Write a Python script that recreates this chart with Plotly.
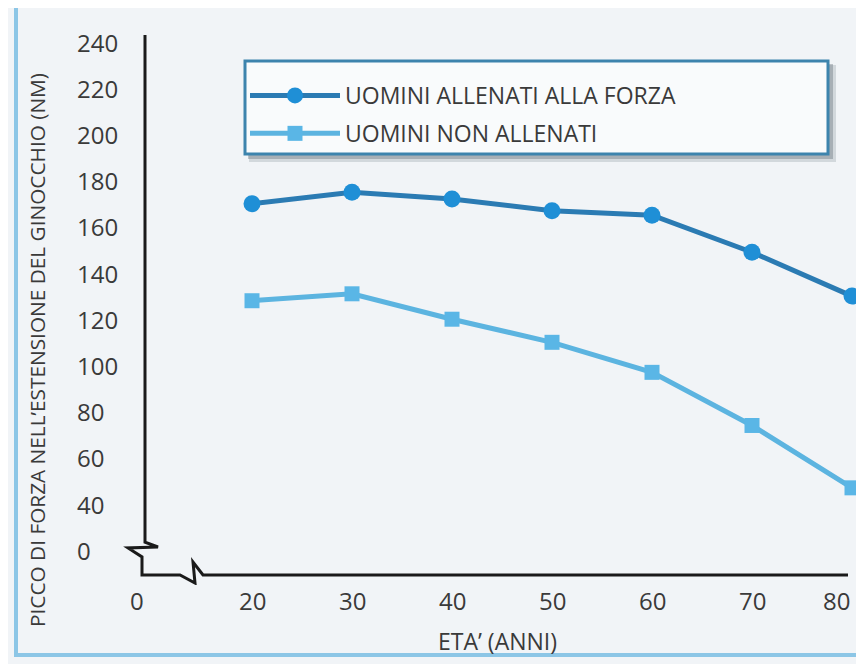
import plotly.graph_objects as go

# ---------------- data ----------------
ages = [20, 30, 40, 50, 60, 70, 80]
trained = [170, 175, 172, 167, 165, 149, 130]
untrained = [128, 131, 120, 110, 97, 74, 47]

series_names = ["UOMINI ALLENATI ALLA FORZA", "UOMINI NON ALLENATI"]

x_tick_vals = [8.5, 20, 30, 40, 50, 60, 70, 80]
x_tick_text = ["0", "20", "30", "40", "50", "60", "70", "80"]
y_tick_vals = [20, 40, 60, 80, 100, 120, 140, 160, 180, 200, 220, 240]
y_tick_text = ["0", "40", "60", "80", "100", "120", "140", "160", "180", "200", "220", "240"]

y_title = "PICCO DI FORZA NELL\u2019ESTENSIONE DEL GINOCCHIO (NM)"
x_title = "ETA\u2019 (ANNI)"

# broken-axis outline (data units)
axis_path_pts = [(9.3, 243.0), (9.3, 23.5), (10.6, 21.4), (7.6, 21.0), (9.0, 17.1),
                 (9.0, 9.3), (12.8, 9.3), (14.3, 5.8), (14.1, 14.9), (15.1, 9.3), (79.6, 9.3)]

# ---------------- layout constants ----------------
OFF = 8                      # default body margin of the page
W, H = 864 - OFF, 664 - OFF
PLOT_L, PLOT_R, PLOT_T, PLOT_B = 122, 864, 30, 585   # page pixels
ML, MR = PLOT_L - OFF, 0
MT, MB = PLOT_T - OFF, H - (PLOT_B - OFF)
PW, PH = PLOT_R - PLOT_L, PLOT_B - PLOT_T


def px_x(p):
    return (p - PLOT_L) / PW


def px_y(p):
    return 1 - (p - PLOT_T) / PH


FONT = "Open Sans"
TXT = "#3a3a3a"
BG = "#f1f4f7"

fig = go.Figure()
fig.add_trace(go.Scatter(
    x=ages, y=trained, name=series_names[0], mode="lines+markers",
    line=dict(color="#2b7bb3", width=5),
    marker=dict(symbol="circle", size=17, color="#1f8fd6"),
    legendgroup="a", cliponaxis=False,
))
fig.add_trace(go.Scatter(
    x=ages, y=untrained, name=series_names[1], mode="lines+markers",
    line=dict(color="#5cb4e0", width=5),
    marker=dict(symbol="square", size=15, color="#5ab6e6"),
    legendgroup="b", cliponaxis=False,
))

path = "M " + " L ".join(f"{x},{y}" for x, y in axis_path_pts)

LEG_L, LEG_R, LEG_T, LEG_B = 245, 828, 61, 154

shapes = [
    # outer frame
    dict(type="rect", xref="paper", yref="paper", x0=px_x(16), x1=px_x(875),
         y0=px_y(655), y1=px_y(6), line=dict(color="#8cc6e6", width=4), layer="below"),
    dict(type="line", xref="paper", yref="paper", x0=px_x(16), x1=px_x(875),
         y0=px_y(6), y1=px_y(6), line=dict(color="#5f7784", width=2), layer="below"),
    # legend shadow (soft)
    dict(type="rect", xref="paper", yref="paper", x0=px_x(LEG_L + 4), x1=px_x(LEG_R + 8),
         y0=px_y(LEG_B + 8), y1=px_y(LEG_T + 4), line=dict(width=0),
         fillcolor="rgba(120,130,140,0.25)", layer="above"),
    dict(type="rect", xref="paper", yref="paper", x0=px_x(LEG_L + 3), x1=px_x(LEG_R + 5),
         y0=px_y(LEG_B + 5), y1=px_y(LEG_T + 3), line=dict(width=0),
         fillcolor="rgba(90,100,110,0.35)", layer="above"),
    # legend box
    dict(type="rect", xref="paper", yref="paper", x0=px_x(LEG_L), x1=px_x(LEG_R),
         y0=px_y(LEG_B), y1=px_y(LEG_T), line=dict(color="#3d84ad", width=3),
         fillcolor="#f9fbfc", layer="above"),
    # axis with breaks
    dict(type="path", xref="x", yref="y", path=path,
         line=dict(color="#1a1a1a", width=3), layer="above"),
]

annotations = []
for v, t in zip(y_tick_vals, y_tick_text):
    annotations.append(dict(xref="paper", yref="y", x=0, y=v, text=t, showarrow=False,
                            xanchor="left", yanchor="middle", xshift=75 - PLOT_L,
                            font=dict(family=FONT, size=24, color=TXT)))
for i, (v, t) in enumerate(zip(x_tick_vals, x_tick_text)):
    last = i == len(x_tick_vals) - 1
    annotations.append(dict(xref="x", yref="paper", x=v, y=px_y(600), text=t, showarrow=False,
                            xanchor="right" if last else "center", yanchor="middle",
                            font=dict(family=FONT, size=24, color=TXT)))
annotations.append(dict(xref="paper", yref="paper", x=px_x(37), y=px_y(350), text=y_title,
                        textangle=-90, showarrow=False, xanchor="center", yanchor="middle",
                        font=dict(family=FONT, size=20.8, color=TXT)))
annotations.append(dict(xref="paper", yref="paper", x=px_x(498), y=px_y(641), text=x_title,
                        showarrow=False, xanchor="center", yanchor="middle",
                        font=dict(family=FONT, size=23, color=TXT)))

fig.update_layout(
    width=W, height=H,
    margin=dict(l=ML, r=MR, t=MT, b=MB, pad=0),
    paper_bgcolor=BG, plot_bgcolor=BG,
    font=dict(family=FONT, color=TXT),
    showlegend=True,
    legend=dict(
        x=px_x(LEG_L), y=px_y(LEG_T + 13), xanchor="left", yanchor="top",
        bgcolor="rgba(0,0,0,0)", borderwidth=0,
        font=dict(family=FONT, size=23, color=TXT),
        itemwidth=90, traceorder="grouped", tracegroupgap=5,
    ),
    xaxis=dict(range=[7.0, 81.2], showgrid=False, zeroline=False, showline=False,
               showticklabels=False, ticks="", automargin=False, fixedrange=True),
    yaxis=dict(range=[4.94, 245.2], showgrid=False, zeroline=False, showline=False,
               showticklabels=False, ticks="", automargin=False, fixedrange=True),
    shapes=shapes,
    annotations=annotations,
)

fig.write_html("out.html")
